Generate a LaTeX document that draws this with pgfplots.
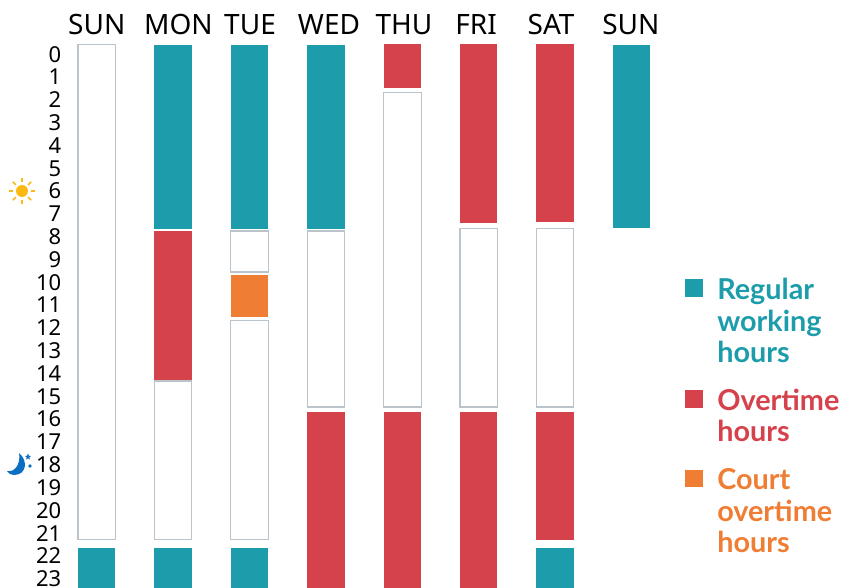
\documentclass[border=0pt]{standalone}
\usepackage{pgfplots}
\pgfplotsset{compat=1.18}
\usetikzlibrary{calc}
\usepackage{fontspec}
\setmainfont{Noto Sans}
\newfontfamily\legfont{Lato}
\definecolor{tealc}{HTML}{1D9DAB}
\definecolor{redc}{HTML}{D6424B}
\definecolor{orangec}{HTML}{EF7D33}
\definecolor{edgec}{HTML}{BCC4CB}
\definecolor{sunc}{HTML}{FDB913}
\definecolor{moonc}{HTML}{0B6FC4}
% \seg{x left}{x right}{start hour}{end hour}{style}
\newcommand{\seg}[5]{\addplot[#5] coordinates {(#1,#3)(#2,#3)(#2,#4)(#1,#4)} --cycle;}
\tikzset{
 reg/.style={fill=tealc,draw=none},
 ot/.style={fill=redc,draw=none},
 court/.style={fill=orangec,draw=none},
 off/.style={fill=white,draw=edgec,line width=0.85pt},
 leg/.style={anchor=base west,inner sep=0pt,font=\legfont\bfseries\fontsize{21.6pt}{24pt}\selectfont}
}
\begin{document}
\begin{tikzpicture}
\useasboundingbox (0,0) rectangle (632.25pt,-441pt);
\begin{axis}[
  at={(49.5pt,-30pt)}, anchor=north west,
  scale only axis, width=445.5pt, height=411pt,
  xmin=-0.4025, xmax=7.372, ymin=-0.175, ymax=23.86,
  y dir=reverse, axis line style={draw=none}, tick style={draw=none},
  major tick length=0pt,
  xticklabel pos=top,
  xtick={0,1.07,2.006,3.04,4.02,4.964,5.947,6.99},
  xticklabels={SUN,MON,TUE,WED,THU,FRI,SAT,SUN},
  ytick={0.5,1.5,2.5,3.5,4.5,5.5,6.5,7.5,8.5,9.5,10.5,11.5,12.5,13.5,14.5,15.5,16.5,17.5,18.5,19.5,20.5,21.5,22.5,23.5},
  yticklabels={0,1,2,3,4,5,6,7,8,9,10,11,12,13,14,15,16,17,18,19,20,21,22,23},
  xticklabel style={font=\fontsize{21pt}{24pt}\selectfont,anchor=base,yshift=4.5pt},
  yticklabel style={font=\fontsize{16.5pt}{20pt}\selectfont,anchor=east,xshift=0pt,yshift=0.8pt},
  /pgf/number format/assume math mode=true,
  clip=true
]
% SUN
\seg{-0.245}{0.245}{0.04}{21.75}{off}
\seg{-0.245}{0.245}{22.11}{24}{reg}
% MON
\seg{0.755}{1.245}{0.04}{8.11}{reg}
\seg{0.755}{1.245}{8.20}{14.74}{ot}
\seg{0.755}{1.245}{14.78}{21.75}{off}
\seg{0.755}{1.245}{22.11}{24}{reg}
% TUE
\seg{1.755}{2.245}{0.04}{8.11}{reg}
\seg{1.755}{2.245}{8.20}{10.00}{off}
\seg{1.755}{2.245}{10.13}{11.97}{court}
\seg{1.755}{2.245}{12.13}{21.75}{off}
\seg{1.755}{2.245}{22.11}{24}{reg}
% WED
\seg{2.755}{3.245}{0.06}{8.11}{reg}
\seg{2.755}{3.245}{8.20}{15.92}{off}
\seg{2.755}{3.245}{16.12}{24}{ot}
% THU
\seg{3.755}{4.245}{0.02}{1.91}{ot}
\seg{3.755}{4.245}{2.13}{15.92}{off}
\seg{3.755}{4.245}{16.12}{24}{ot}
% FRI
\seg{4.755}{5.245}{0.02}{7.85}{ot}
\seg{4.755}{5.245}{8.09}{15.92}{off}
\seg{4.755}{5.245}{16.12}{24}{ot}
% SAT
\seg{5.755}{6.245}{-0.02}{7.81}{ot}
\seg{5.755}{6.245}{8.09}{15.92}{off}
\seg{5.755}{6.245}{16.16}{21.75}{ot}
\seg{5.755}{6.245}{22.11}{24}{reg}
% SUN
\seg{6.755}{7.245}{0.04}{8.09}{reg}
\end{axis}
\begin{scope}[x=0.75pt,y=-0.75pt]
% sun icon
\fill[sunc] (22,191) circle (4.5pt);
\foreach \a in {0,45,...,315}{
  \draw[sunc,line width=1.1pt] ($(22,191)+(\a:6.4pt)$) -- ($(22,191)+(\a:9.7pt)$);
}
% moon icon
\fill[moonc] (19,453) .. controls (28,460) and (27,475) .. (14,475)
  .. controls (11,475) and (8,473.5) .. (7,471)
  .. controls (15,473) and (21,463) .. (19,453) -- cycle;
\fill[moonc] (28,453.5) -- (28.9,455.7) -- (31,456) -- (29.3,457.3) -- (30,459.6) -- (28,458.3) -- (26,459.6) -- (26.7,457.3) -- (25,456) -- (27.1,455.7) -- cycle;
\fill[moonc] (30,466) circle (1.4pt);
% legend
\fill[tealc] (685,279) rectangle (703,297);
\fill[redc] (685,390) rectangle (703,408);
\fill[orangec] (685,470) rectangle (703,487);
\node[leg,text=tealc] at (717,299) {Regular};
\node[leg,text=tealc] at (717,331) {working};
\node[leg,text=tealc] at (717,362) {hours};
\node[leg,text=redc] at (717,410) {Overtime};
\node[leg,text=redc] at (717,441) {hours};
\node[leg,text=orangec] at (717,489) {Court};
\node[leg,text=orangec] at (717,521) {overtime};
\node[leg,text=orangec] at (717,552) {hours};
\end{scope}
\end{tikzpicture}
\end{document}
